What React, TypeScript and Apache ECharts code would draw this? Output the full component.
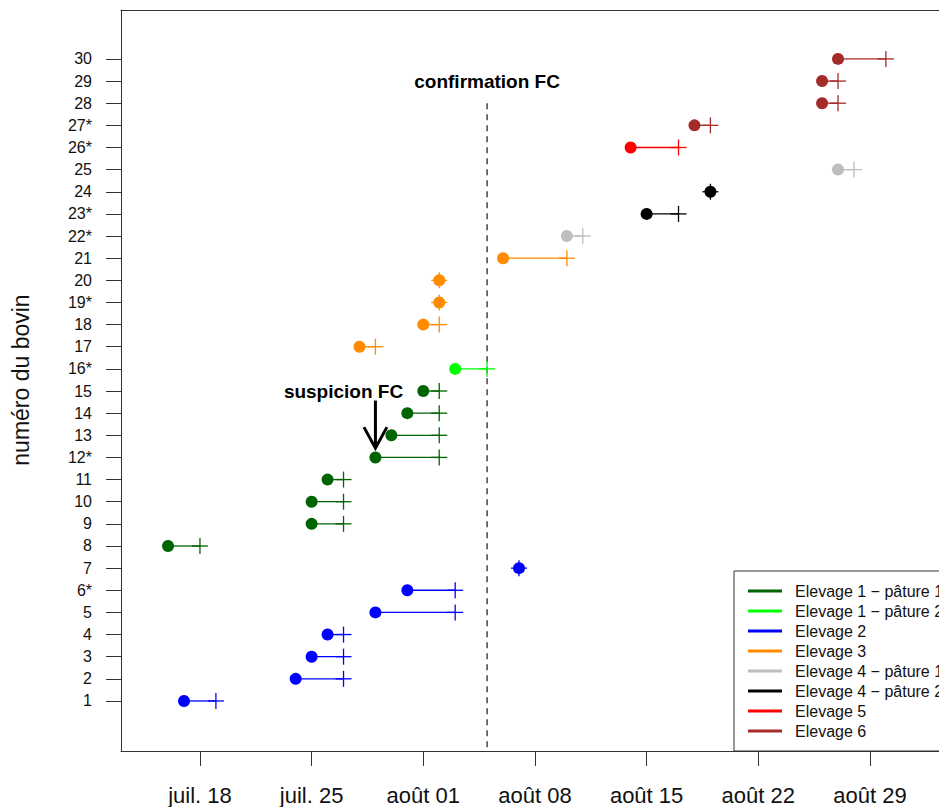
import React, { useEffect, useRef } from "react";
import * as echarts from "echarts";

// ---- data ----
const rowLabels = ["1", "2", "3", "4", "5", "6*", "7", "8", "9", "10", "11", "12*", "13", "14", "15", "16*", "17", "18", "19*", "20", "21", "22*", "23*", "24", "25", "26*", "27*", "28", "29", "30"];
const startDates = ["07-17", "07-24", "07-25", "07-26", "07-29", "07-31", "08-07", "07-16", "07-25", "07-25", "07-26", "07-29", "07-30", "07-31", "08-01", "08-03", "07-28", "08-01", "08-02", "08-02", "08-06", "08-10", "08-15", "08-19", "08-27", "08-14", "08-18", "08-26", "08-26", "08-27"];
const endDates = ["07-19", "07-27", "07-27", "07-27", "08-03", "08-03", "08-07", "07-18", "07-27", "07-27", "07-27", "08-02", "08-02", "08-02", "08-02", "08-05", "07-29", "08-02", "08-02", "08-02", "08-10", "08-11", "08-17", "08-19", "08-28", "08-17", "08-19", "08-27", "08-27", "08-30"];
const rowGroups = [2, 2, 2, 2, 2, 2, 2, 0, 0, 0, 0, 0, 0, 0, 0, 1, 3, 3, 3, 3, 3, 4, 5, 5, 4, 6, 7, 7, 7, 7];
const groupNames = ["Elevage 1 − pâture 1", "Elevage 1 − pâture 2", "Elevage 2", "Elevage 3", "Elevage 4 − pâture 1", "Elevage 4 − pâture 2", "Elevage 5", "Elevage 6"];
const groupColors = ["#006400", "#00FF00", "#0000FF", "#FF8C00", "#BEBEBE", "#000000", "#FF0000", "#A52A2A"];
const xTickDates = ["07-18", "07-25", "08-01", "08-08", "08-15", "08-22", "08-29"];
const xTickLabels = ["juil. 18", "juil. 25", "août 01", "août 08", "août 15", "août 22", "août 29"];
const yTickRows = rowLabels.map((_, i) => i + 1);

const confirmationDate = "08-05";
const confirmationLineTop = 28;
const confirmationTextRow = 29;
const confirmationText = "confirmation FC";
const suspicionTextDate = "07-27";
const suspicionTextRow = 15;
const suspicionText = "suspicion FC";
const suspicionArrowDate = "07-29";
const suspicionArrowFrom = 14.57;
const suspicionArrowTo = 12.42;

const yTitle = "numéro du bovin";

// axis limits (days relative to 18 July)
const X_MIN = -4.95;
const X_MAX = 46.33;
const Y_MIN = -1.26;
const Y_MAX = 32.21;

const FONT = '"Liberation Sans", Arial, Helvetica, sans-serif';

function toDay(md: string): number {
  const [m, d] = md.split("-").map(Number);
  if (m === 7) return d - 18;
  if (m === 8) return d + 13;
  return d + 44;
}

const xTickValues = xTickDates.map(toDay);

export default function App() {
  const ref = useRef<HTMLDivElement>(null);

  useEffect(() => {
    if (!ref.current) return;
    const chart = echarts.init(ref.current, undefined, { renderer: "svg" });

    const groupSeries = groupNames.map((name, g) => {
      const data: number[][] = [];
      rowGroups.forEach((gr, i) => {
        if (gr === g) data.push([toDay(startDates[i]), toDay(endDates[i]), i + 1]);
      });
      const color = groupColors[g];
      return {
        type: "custom",
        name,
        data,
        encode: { x: [0, 1], y: 2 },
        renderItem: (params: any, api: any) => {
          const s = api.coord([api.value(0), api.value(2)]);
          const e = api.coord([api.value(1), api.value(2)]);
          const lw = 1.3;
          return {
            type: "group",
            children: [
              { type: "line", shape: { x1: s[0], y1: s[1], x2: e[0], y2: e[1] }, style: { stroke: color, lineWidth: lw } },
              { type: "circle", shape: { cx: s[0], cy: s[1], r: 6 }, style: { fill: color } },
              { type: "line", shape: { x1: e[0] - 8, y1: e[1], x2: e[0] + 8, y2: e[1] }, style: { stroke: color, lineWidth: lw } },
              { type: "line", shape: { x1: e[0], y1: e[1] - 8, x2: e[0], y2: e[1] + 8 }, style: { stroke: color, lineWidth: lw } },
            ],
          };
        },
      };
    });

    const annotationSeries = {
      type: "custom",
      name: "annotations",
      data: [[0, 0]],
      silent: true,
      renderItem: (params: any, api: any) => {
        const lineTop = api.coord([toDay(confirmationDate), confirmationLineTop]);
        const lineBottom = api.coord([toDay(confirmationDate), Y_MIN]);
        const confText = api.coord([toDay(confirmationDate), confirmationTextRow]);
        const suspText = api.coord([toDay(suspicionTextDate), suspicionTextRow]);
        const arrFrom = api.coord([toDay(suspicionArrowDate), suspicionArrowFrom]);
        const arrTo = api.coord([toDay(suspicionArrowDate), suspicionArrowTo]);
        return {
          type: "group",
          children: [
            {
              type: "line",
              shape: { x1: lineTop[0], y1: lineTop[1], x2: lineBottom[0], y2: lineBottom[1] },
              style: { stroke: "#444", lineWidth: 1.5, lineDash: [6, 5] },
            },
            {
              type: "text",
              x: confText[0],
              y: confText[1],
              style: { text: confirmationText, fill: "#000", font: `bold 19px ${FONT}`, align: "center", verticalAlign: "middle" },
            },
            {
              type: "text",
              x: suspText[0],
              y: suspText[1],
              style: { text: suspicionText, fill: "#000", font: `bold 19px ${FONT}`, align: "center", verticalAlign: "middle" },
            },
            {
              type: "line",
              shape: { x1: arrFrom[0], y1: arrFrom[1], x2: arrTo[0], y2: arrTo[1] },
              style: { stroke: "#000", lineWidth: 3 },
            },
            {
              type: "polyline",
              shape: { points: [[arrTo[0] - 11.5, arrTo[1] - 21], [arrTo[0], arrTo[1]], [arrTo[0] + 11.5, arrTo[1] - 21]] },
              style: { stroke: "#000", lineWidth: 3, fill: null },
            },
          ],
        };
      },
    };

    const legendChildren: any[] = [
      { type: "rect", shape: { x: 0, y: 0, width: 320, height: 180 }, style: { fill: "#fff", stroke: "#333", lineWidth: 1 } },
    ];
    groupNames.forEach((name, i) => {
      const cy = 20 + i * 20;
      legendChildren.push({ type: "line", shape: { x1: 14, y1: cy, x2: 48, y2: cy }, style: { stroke: groupColors[i], lineWidth: 3 } });
      legendChildren.push({
        type: "text",
        x: 61,
        y: cy,
        style: { text: name, fill: "#111", font: `16px ${FONT}`, verticalAlign: "middle", align: "left" },
      });
    });

    const boxLine = { show: true, onZero: false, lineStyle: { color: "#333", width: 1 } };

    const option: any = {
      animation: false,
      backgroundColor: "#fff",
      grid: { left: 121, top: 10, bottom: 56, right: 0, show: false },
      xAxis: [
        {
          type: "value",
          min: X_MIN,
          max: X_MAX,
          position: "bottom",
          axisLine: boxLine,
          splitLine: { show: false },
          axisTick: { show: true, inside: false, length: 15, lineStyle: { color: "#333", width: 1 }, customValues: xTickValues },
          axisLabel: {
            show: true,
            customValues: xTickValues,
            margin: 33,
            fontSize: 22,
            fontFamily: FONT,
            color: "#111",
            formatter: (v: number) => {
              const idx = xTickValues.indexOf(Math.round(v));
              return idx >= 0 ? xTickLabels[idx] : "";
            },
          },
        },
        {
          type: "value",
          min: X_MIN,
          max: X_MAX,
          position: "top",
          axisLine: boxLine,
          splitLine: { show: false },
          axisTick: { show: false },
          axisLabel: { show: false },
        },
      ],
      yAxis: {
        type: "value",
        min: Y_MIN,
        max: Y_MAX,
        position: "left",
        axisLine: boxLine,
        splitLine: { show: false },
        axisTick: { show: true, inside: false, length: 15, lineStyle: { color: "#333", width: 1 }, customValues: yTickRows },
        axisLabel: {
          show: true,
          customValues: yTickRows,
          margin: 29,
          fontSize: 16,
          fontFamily: FONT,
          color: "#111",
          formatter: (v: number) => rowLabels[Math.round(v) - 1] ?? "",
        },
      },
      graphic: [
        {
          type: "text",
          x: 21,
          y: 380,
          rotation: Math.PI / 2,
          style: { text: yTitle, fill: "#111", font: `23px ${FONT}`, align: "center", verticalAlign: "middle" },
        },
        { type: "group", x: 734, y: 571, children: legendChildren },
      ],
      series: [annotationSeries, ...groupSeries],
    };

    chart.setOption(option);
    return () => chart.dispose();
  }, []);

  return (
    <div
      ref={ref}
      style={{ position: "fixed", left: 0, top: 0, width: 939, height: 807, background: "#fff" }}
    />
  );
}
